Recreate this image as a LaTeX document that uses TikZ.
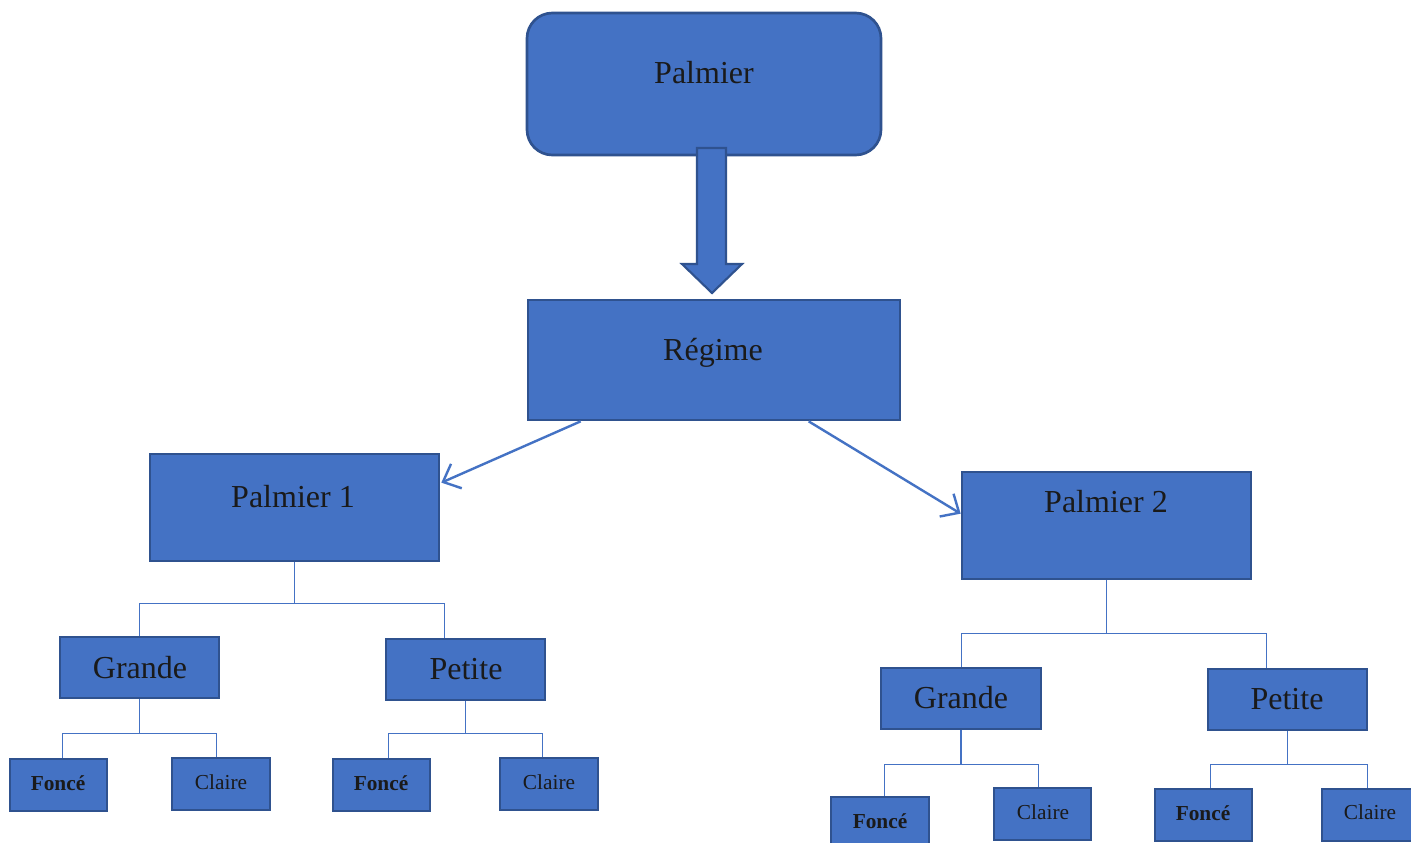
\documentclass[tikz,border=0pt]{standalone}
\usepackage{fontspec}
\setmainfont{Liberation Serif}
\usetikzlibrary{arrows.meta,calc,fit}
\definecolor{boxfill}{HTML}{4472C4}
\definecolor{boxline}{HTML}{2F528F}
\definecolor{linkcol}{HTML}{4472C4}
\definecolor{txtcol}{HTML}{1A1A1A}
\begin{document}
\begin{tikzpicture}[x=0.75pt,y=-0.75pt,
  box/.style={draw=boxline,fill=boxfill,line width=2pt,inner sep=0pt,rectangle},
  rbox/.style={box,rounded corners=19pt},
  bigtxt/.style={anchor=base,inner sep=0pt,text=txtcol,font=\fontsize{24}{28}\selectfont},
  smalltxt/.style={anchor=base,inner sep=0pt,text=txtcol,font=\fontsize{16}{19}\selectfont},
  boldtxt/.style={smalltxt,font=\fontsize{16}{19}\selectfont\bfseries},
  arr/.style={draw=linkcol,line width=1.8pt,-{Straight Barb[length=11pt,width=20pt,line width=1.8pt]}},
  tree/.style={draw=linkcol,line width=1.1pt}]
\clip (0,0) rectangle (1411,843);
\fill[white] (0,0) rectangle (1411,843);

% top
\node[rbox,fit={(527,13)(881,155)}] (palm) {};
\node[bigtxt] (palmT) at (704,83) {Palmier};
% block arrow
\draw[draw=boxline,fill=boxfill,line width=1.6pt,line join=miter]
  (697,148) -- (726,148) -- (726,264) -- (742,264) -- (712,293) -- (682,264) -- (697,264) -- cycle;

\node[box,fit={(528,300)(900,420)}] (reg) {};
\node[bigtxt] (regT) at (713,360) {Régime};

\node[box,fit={(150,454)(439,561)}] (p1) {};
\node[bigtxt] (p1T) at (293,507) {Palmier 1};
\node[box,fit={(962,472)(1251,579)}] (p2) {};
\node[bigtxt] (p2T) at (1106,512) {Palmier 2};

\draw[arr] ($(reg.south west)+(54,0)$) -- ($(p1.north east)+(1,30)$);
\draw[arr] ($(reg.south west)+(282,0)$) -- ($(p2.north west)+(0,43)$);

% level 2 left
\node[box,fit={(60,637)(219,698)}] (g1) {};
\node[bigtxt] (g1T) at (140,678) {Grande};
\node[box,fit={(386,639)(545,700)}] (pe1) {};
\node[bigtxt] (pe1T) at (466,679) {Petite};
% level 2 right
\node[box,fit={(881,668)(1041,729)}] (g2) {};
\node[bigtxt] (g2T) at (961,708) {Grande};
\node[box,fit={(1208,669)(1367,730)}] (pe2) {};
\node[bigtxt] (pe2T) at (1287,709) {Petite};

% level 3
\node[box,fit={(10,759)(107,811)}] (f1) {};
\node[boldtxt] (f1T) at (58,790) {Foncé};
\node[box,fit={(172,758)(270,810)}] (c1) {};
\node[smalltxt] (c1T) at (221,789) {Claire};
\node[box,fit={(333,759)(430,811)}] (f2) {};
\node[boldtxt] (f2T) at (381,790) {Foncé};
\node[box,fit={(500,758)(598,810)}] (c2) {};
\node[smalltxt] (c2T) at (549,789) {Claire};
\node[box,fit={(831,797)(929,855)}] (f3) {};
\node[boldtxt] (f3T) at (880,828) {Foncé};
\node[box,fit={(994,788)(1091,840)}] (c3) {};
\node[smalltxt] (c3T) at (1043,819) {Claire};
\node[box,fit={(1155,789)(1252,841)}] (f4) {};
\node[boldtxt] (f4T) at (1203,820) {Foncé};
\node[box,fit={(1322,789)(1420,841)}] (c4) {};
\node[smalltxt] (c4T) at (1370,819) {Claire};

% trees
\draw[tree] (p1.south) -- ++(0,41) coordinate (j1);
\draw[tree] (j1) -| ($(g1.north west)+(81,0)$);
\draw[tree] (j1) -| ($(pe1.north west)+(60,0)$);

\draw[tree] (p2.south) -- ++(0,53) coordinate (j2);
\draw[tree] (j2) -| ($(g2.north west)+(82,0)$);
\draw[tree] (j2) -| ($(pe2.north west)+(60,0)$);

\draw[tree] (g1.south) -- ++(0,34) coordinate (j3);
\draw[tree] (j3) -| ($(f1.north west)+(54,0)$);
\draw[tree] (j3) -| ($(c1.north west)+(46,0)$);

\draw[tree] (pe1.south) -- ++(0,32) coordinate (j4);
\draw[tree] (j4) -| ($(f2.north west)+(57,0)$);
\draw[tree] (j4) -| ($(c2.north west)+(44,0)$);

\draw[tree] (g2.south) -- ++(0,34) coordinate (j5);
\draw[tree] (j5) -| ($(f3.north west)+(55,0)$);
\draw[tree] (j5) -| ($(c3.north west)+(46,0)$);

\draw[tree] (pe2.south) -- ++(0,33) coordinate (j6);
\draw[tree] (j6) -| ($(f4.north west)+(57,0)$);
\draw[tree] (j6) -| ($(c4.north west)+(47,0)$);
\end{tikzpicture}
\end{document}
